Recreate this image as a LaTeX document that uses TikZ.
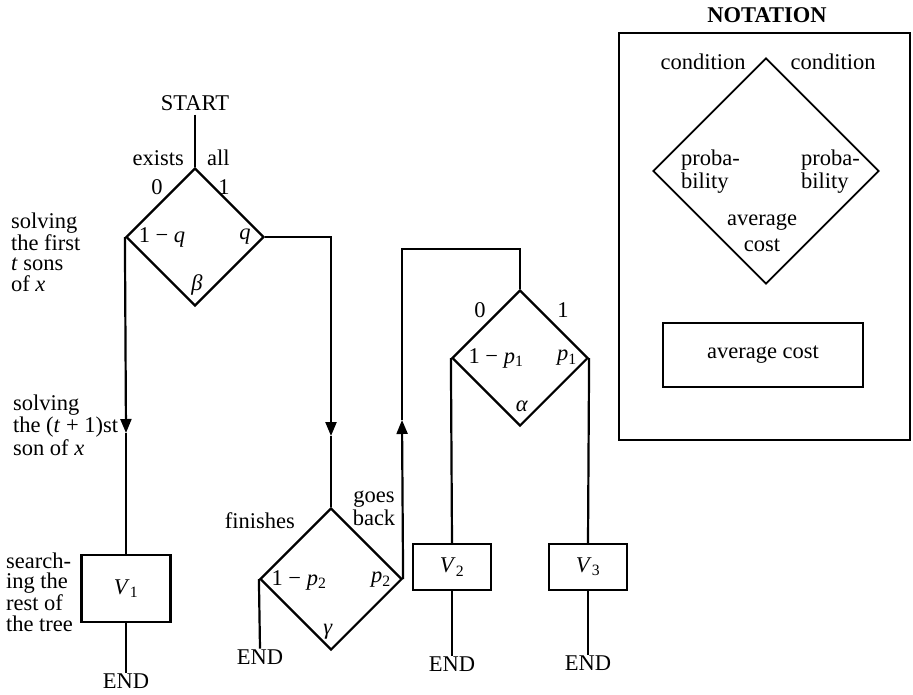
\documentclass[tikz,border=0pt]{standalone}
\usepackage{fontspec}
\setmainfont{Liberation Serif}
\usetikzlibrary{shapes.geometric,arrows.meta}
\begin{document}
\begin{tikzpicture}[x=1pt,y=-1pt,
  font=\fontsize{22.5}{20.5}\selectfont,
  line width=2.2pt,
  dia/.style={draw,diamond,aspect=1,inner sep=0pt,minimum width=#1,minimum height=#1},
  box/.style={draw,rectangle,inner sep=0pt},
  lbl/.style={inner sep=0pt},
  tip/.style={-{Triangle[length=14pt,width=11pt]}}]
\useasboundingbox (0,0) rectangle (913,694);

% main diamonds and boxes
\node[dia=138] (beta) at (195,237) {};
\node[dia=142] (gamma) at (331,579) {};
\node[dia=136] (alpha) at (520,358) {};
\node[box,minimum width=89,minimum height=67] (V1) at (126,588.5) {\textit{V}\textsubscript{1}};
\node[box,minimum width=78,minimum height=46] (V2) at (452,567) {\textit{V}\textsubscript{2}};
\node[box,minimum width=78,minimum height=46] (V3) at (588,567) {\textit{V}\textsubscript{3}};

% start / end
\node[lbl,inner ysep=3pt] (START) at (195,103) {START};
\node[lbl] (END1) at (126,681) {END};
\node[lbl] (END2) at (260,657) {END};
\node[lbl] (END3) at (452,664) {END};
\node[lbl] (END4) at (588,663) {END};

% labels around beta
\node[lbl,anchor=east] (lexists) at (185,158) {exists};
\node[lbl,anchor=west] (lall) at (206,158) {all};
\node[lbl] (lb0) at (157,187) {0};
\node[lbl] (lb1) at (224,187) {1};
\node[lbl] (lbq1) at (162,237) {1 − \textit{q}};
\node[lbl] (lbq) at (245,237) {\textit{q}};
\node[lbl] (lbeta) at (197,285) {\textit{β}};

% side texts
\node[lbl,align=left,anchor=west] (t1) at (10,252) {solving\\the first\\\textit{t} sons\\of \textit{x}};
\node[lbl,align=left,anchor=west,font=\fontsize{22.5}{22.5}\selectfont] (t2) at (12,425) {solving\\the (\textit{t} + 1)st\\son of \textit{x}};
\node[lbl,align=left,anchor=west] (t3) at (5,592) {search-\\ing the\\rest of\\the tree};
\node[lbl,anchor=east] (tfin) at (296,521) {finishes};
\node[lbl,align=center,font=\fontsize{22.5}{23}\selectfont] (tgoes) at (374,508) {goes\\back};

% labels of gamma
\node[lbl] (lgp1) at (299,580) {1 − \textit{p}\textsubscript{2}};
\node[lbl] (lgp) at (381,580) {\textit{p}\textsubscript{2}};
\node[lbl] (lgam) at (328,632) {\textit{γ}};

% labels of alpha
\node[lbl] (la0) at (480,310) {0};
\node[lbl] (la1) at (563,310) {1};
\node[lbl] (lap1) at (496,358) {1 − \textit{p}\textsubscript{1}};
\node[lbl] (lap) at (567,358) {\textit{p}\textsubscript{1}};
\node[lbl] (lalp) at (522,406) {\textit{α}};

% connectors
\coordinate (a1) at (126,433);
\coordinate (a2) at (331,436);
\coordinate (a3) at (402,420);
\coordinate (lp) at (402,249);
\draw (START) -- (beta.north);
\draw[tip] (beta.west) -- (a1);
\draw (a1) -- (V1.north);
\draw (V1.south) -- (END1.north);
\draw[tip] (beta.east) -| (a2);
\draw (a2) -- (gamma.north);
\draw (gamma.west) -- (END2.north);
\draw[tip] (gamma.east) -- (a3);
\draw (a3) -- (lp) -| (alpha.north);
\draw (alpha.west) -- (V2.north);
\draw (V2.south) -- (END3.north);
\draw (alpha.east) -- (V3.north);
\draw (V3.south) -- (END4.north);

% notation
\node[lbl,font=\fontsize{22.5}{20}\selectfont\bfseries] (ntitle) at (767,15) {NOTATION};
\node[box,minimum width=291,minimum height=407] (nbox) at (764.5,236.5) {};
\node[dia=226,line width=1.8pt] (ndia) at (766,171) {};
\node[lbl] (nc1) at (703,62) {condition};
\node[lbl] (nc2) at (833,62) {condition};
\node[lbl,align=left,anchor=west,font=\fontsize{22.5}{23}\selectfont] (np1) at (680,172) {proba-\\bility};
\node[lbl,align=left,anchor=west,font=\fontsize{22.5}{23}\selectfont] (np2) at (800,172) {proba-\\bility};
\node[lbl,align=center,font=\fontsize{22.5}{26}\selectfont] (nac) at (762,233) {average\\cost};
\node[box,minimum width=200,minimum height=64] (nbox2) at (763,355) {average cost};
\end{tikzpicture}
\end{document}
